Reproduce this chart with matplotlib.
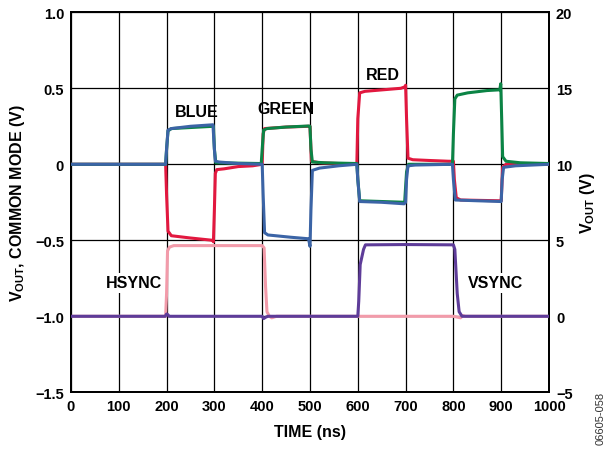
import numpy as np
import matplotlib
matplotlib.use("Agg")
import matplotlib.pyplot as plt

plt.rcParams['font.family'] = ['Liberation Sans', 'DejaVu Sans']
plt.rcParams['font.weight'] = 'bold'
plt.rcParams['mathtext.fontset'] = 'custom'
plt.rcParams['mathtext.rm'] = 'Liberation Sans:bold'
plt.rcParams['mathtext.default'] = 'rm'

# ---- data (time in ns) ----
red_t = [0, 198, 200, 203, 210, 250, 296, 298, 300, 302, 305, 320, 350, 380, 400,
         402, 405, 450, 498, 500, 503, 520, 598, 600, 604, 615, 690, 699, 700, 702,
         705, 715, 750, 790, 800, 802, 806, 815, 895, 900, 903, 910, 1000]
red_v = [0.0, 0.0, -0.2, -0.44, -0.47, -0.485, -0.50, -0.51, -0.3, -0.06, -0.035, -0.03, -0.015, -0.01, 0.0,
         0.2, 0.235, 0.245, 0.25, 0.25, 0.02, 0.01, 0.0, 0.3, 0.47, 0.48, 0.50, 0.51, 0.52, 0.3,
         0.04, 0.03, 0.025, 0.02, 0.02, -0.1, -0.22, -0.235, -0.24, -0.24, -0.02, 0.0, 0.0]

green_t = [0, 198, 200, 203, 210, 298, 300, 303, 398, 400, 403, 410, 450, 497, 500,
           502, 505, 530, 598, 600, 604, 698, 702, 706, 798, 800, 803, 808, 830, 870,
           897, 899, 901, 903, 910, 940, 1000]
green_v = [0.0, 0.0, 0.1, 0.22, 0.235, 0.25, 0.1, 0.01, 0.005, 0.1, 0.225, 0.235, 0.245, 0.252, 0.25,
           0.1, 0.015, 0.01, 0.005, -0.1, -0.24, -0.25, -0.05, 0.0, 0.0, 0.2, 0.43, 0.455, 0.47, 0.485,
           0.49, 0.53, 0.3, 0.05, 0.02, 0.01, 0.005]

blue_t = [0, 198, 200, 203, 210, 250, 297, 300, 302, 310, 350, 400, 402, 405, 412,
          460, 497, 500, 502, 505, 520, 560, 598, 600, 604, 650, 697, 700, 702, 705,
          720, 798, 800, 804, 850, 900, 902, 905, 930, 1000]
blue_v = [0.0, 0.0, 0.1, 0.225, 0.235, 0.25, 0.26, 0.1, 0.02, 0.015, 0.005, 0.0, -0.2, -0.45, -0.465,
          -0.48, -0.49, -0.54, -0.3, -0.04, -0.025, -0.01, 0.0, -0.1, -0.245, -0.25, -0.26, -0.25, -0.1, -0.01,
          -0.005, 0.0, -0.1, -0.235, -0.24, -0.245, -0.1, -0.02, -0.01, 0.0]

# sync signals, right axis (V)
hsync_t = [0, 198, 200, 202, 206, 215, 300, 400, 404, 407, 410, 415, 420, 430, 600, 800, 815, 820, 825, 1000]
hsync_v = [0.0, 0.0, 1.5, 4.3, 4.55, 4.65, 4.65, 4.65, 4.5, 2.0, 0.3, 0.0, -0.1, 0.0, 0.0, 0.0, -0.1, 0.05, 0.0, 0.0]

vsync_t = [0, 197, 200, 203, 205, 400, 403, 408, 412, 600, 602, 605, 612, 616, 700, 800, 803, 808, 812, 818, 1000]
vsync_v = [0.0, 0.0, 0.15, 0.1, 0.0, 0.0, -0.15, -0.05, 0.0, 0.0, 1.0, 3.4, 4.4, 4.7, 4.72, 4.7, 4.4, 1.5, 0.3, 0.0, 0.0]

x_ticks = [0, 100, 200, 300, 400, 500, 600, 700, 800, 900, 1000]
left_ticks = [1.0, 0.5, 0.0, -0.5, -1.0, -1.5]
left_labels = ['1.0', '0.5', '0', '\u22120.5', '\u22121.0', '\u22121.5']
right_ticks = [20, 15, 10, 5, 0, -5]
right_labels = ['20', '15', '10', '5', '0', '\u22125']

# ---- plot ----
fig = plt.figure(figsize=(6.15, 4.52), dpi=100)
ax = fig.add_axes([0.1154, 0.1299, 0.7773, 0.8407])
ax2 = ax.twinx()

ax.set_xlim(0, 1000)
ax.set_ylim(-1.5, 1.0)
ax2.set_ylim(-5, 20)

ax.set_xticks(x_ticks)
ax.set_yticks(left_ticks)
ax.set_yticklabels(left_labels)
ax2.set_yticks(right_ticks)
ax2.set_yticklabels(right_labels)
ax.grid(True, color='black', lw=0.9)
ax.set_axisbelow(True)

for a in (ax, ax2):
    a.tick_params(length=0, labelsize=10.5, pad=5)
    for s in a.spines.values():
        s.set_linewidth(1.3)

# draw everything on the left axes so the grid stays underneath;
# the sync traces use the right-hand scale
lw = 2.2
ax.plot(hsync_t, hsync_v, color='#F29BAA', lw=lw, zorder=2, transform=ax2.transData)
ax.plot(vsync_t, vsync_v, color='#5E3C99', lw=lw, zorder=3, transform=ax2.transData)
ax.plot(red_t, red_v, color='#E2183F', lw=lw, zorder=3)
ax.plot(green_t, green_v, color='#0B8445', lw=lw, zorder=4)
ax.plot(blue_t, blue_v, color='#3B64A6', lw=lw, zorder=5)
ax.set_xlim(0, 1000)
ax.set_ylim(-1.5, 1.0)

ax.set_zorder(ax2.get_zorder() + 1)
ax.patch.set_visible(False)

lbl = dict(fontsize=11.5, fontweight='bold', ha='center', va='center', zorder=6)
ax.text(264, 0.35, 'BLUE', **lbl)
ax.text(450, 0.37, 'GREEN', **lbl)
ax.text(653, 0.59, 'RED', **lbl)
box = dict(facecolor='white', edgecolor='none', pad=2)
ax.text(132, -0.78, 'HSYNC', bbox=box, **lbl)
ax.text(889, -0.78, 'VSYNC', bbox=box, **lbl)

ax.set_xlabel('TIME (ns)', fontsize=11.5, fontweight='bold', labelpad=8)
ax.set_ylabel(r'V$_{\mathrm{OUT}}$, COMMON MODE (V)', fontsize=11.5, fontweight='bold', labelpad=6)
ax2.set_ylabel(r'V$_{\mathrm{OUT}}$ (V)', fontsize=11.5, fontweight='bold', labelpad=4)

fig.text(0.976, 0.075, '06605-058', rotation=90, fontsize=8, fontweight='normal',
         color='#333333', ha='center', va='center')

fig.savefig('out.png', dpi=100)
